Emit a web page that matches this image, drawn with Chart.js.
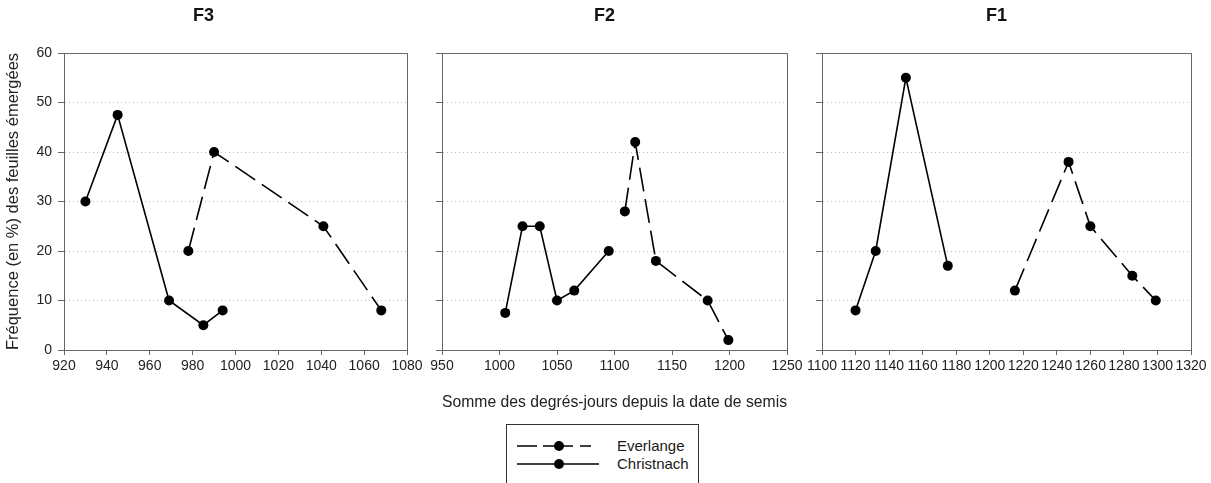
<!DOCTYPE html>
<html>
<head>
<meta charset="utf-8">
<script src="https://cdn.jsdelivr.net/npm/chart.js@4.4.1/dist/chart.umd.min.js"></script>
<style>
    body { margin: 0; background: #fff; }
    #wrap { position: relative; width: 1211px; height: 483px; overflow: hidden; background: #fff;
            font-family: "Liberation Sans", Arial, sans-serif; }
    #wrap canvas { position: absolute; left: 0; top: 0; }
    #legend { position: absolute; left: 506px; top: 424px; width: 191px; height: 80px;
              border: 1px solid #333; background: #fff; }
    #legend .row { position: absolute; left: 10px; height: 18px; width: 180px; }
    #legend svg { position: absolute; left: 0; top: 3px; }
    #legend span { position: absolute; left: 100px; top: 0; font-size: 15px; line-height: 18px; color: #1a1a1a; }
</style>
</head>
<body>
<div id="wrap">
    <canvas id="panel-f3" width="1211" height="483"></canvas>
    <canvas id="panel-f2" width="1211" height="483"></canvas>
    <canvas id="panel-f1" width="1211" height="483"></canvas>
    <div id="legend"></div>
</div>
<script>
// Data
const seriesNames = ['Everlange', 'Christnach'];
const panelTitles = ['F3', 'F2', 'F1'];

const xMin = [920, 950, 1100];
const xMax = [1080, 1250, 1320];
const xStep = [20, 50, 20];
const yMin = 0;
const yMax = 60;
const yStep = 10;

const f3EverlangeX = [978, 990, 1041, 1068];
const f3EverlangeY = [20, 40, 25, 8];
const f3ChristnachX = [930, 945, 969, 985, 994];
const f3ChristnachY = [30, 47.5, 10, 5, 8];

const f2EverlangeX = [1109, 1118, 1136, 1181, 1199];
const f2EverlangeY = [28, 42, 18, 10, 2];
const f2ChristnachX = [1005, 1020, 1035, 1050, 1065, 1095];
const f2ChristnachY = [7.5, 25, 25, 10, 12, 20];

const f1EverlangeX = [1215, 1247, 1260, 1285, 1299];
const f1EverlangeY = [12, 38, 25, 15, 10];
const f1ChristnachX = [1120, 1132, 1150, 1175];
const f1ChristnachY = [8, 20, 55, 17];

const xTitle = 'Somme des degrés-jours depuis la date de semis';
const yTitle = 'Fréquence (en %) des feuilles émergées';

// Layout: pixel edges of each plot area
const panelLeft = [64, 442, 822];
const panelRight = [407, 787, 1191];
const FONT = '"Liberation Sans", Arial, sans-serif';
const AXIS = '#666';

const panelSeries = [
    [[f3EverlangeX, f3EverlangeY], [f3ChristnachX, f3ChristnachY]],
    [[f2EverlangeX, f2EverlangeY], [f2ChristnachX, f2ChristnachY]],
    [[f1EverlangeX, f1EverlangeY], [f1ChristnachX, f1ChristnachY]]
];
const dashes = [[24, 8], []];

// top and right sides of the plot frame
const frame = {
    id: 'frame',
    beforeDatasetsDraw(chart) {
        const { ctx, chartArea: a } = chart;
        ctx.save();
        ctx.strokeStyle = AXIS;
        ctx.lineWidth = 1;
        ctx.beginPath();
        ctx.moveTo(a.left, Math.round(a.top) + 0.5);
        ctx.lineTo(Math.round(a.right) + 0.5, Math.round(a.top) + 0.5);
        ctx.lineTo(Math.round(a.right) + 0.5, a.bottom);
        ctx.stroke();
        ctx.restore();
    }
};

// boxed legend built from the chart's own legend items
const htmlLegend = {
    id: 'htmlLegend',
    afterUpdate(chart) {
        const box = document.getElementById('legend');
        box.innerHTML = '';
        const items = chart.options.plugins.legend.labels.generateLabels(chart);
        items.forEach((item, k) => {
            const row = document.createElement('div');
            row.className = 'row';
            row.style.top = (12 + k * 18) + 'px';
            const dashed = item.lineDash && item.lineDash.length;
            row.innerHTML =
                '<svg width="84" height="12"><line x1="0" y1="6" x2="' + (dashed ? 74 : 82) + '" y2="6" stroke="#000" stroke-width="1.5"' +
                (dashed ? ' stroke-dasharray="20,6,30,7,11"' : '') +
                '/><circle cx="42" cy="6" r="5" fill="#000"/></svg><span>' + item.text + '</span>';
            box.appendChild(row);
        });
    }
};

function buildPanel(i, canvasId) {
    const first = i === 0;
    const mid = i === 1;
    const yWidth = first ? 64 : 20;

    const datasets = panelSeries[i].map((s, k) => ({
        label: seriesNames[k],
        data: s[0].map((x, n) => ({ x: x, y: s[1][n] })),
        showLine: true,
        borderColor: '#000',
        backgroundColor: '#000',
        borderWidth: 1.6,
        borderDash: dashes[k],
        pointRadius: 5,
        pointHoverRadius: 5,
        pointBorderWidth: 0,
        pointBackgroundColor: '#000'
    }));

    return new Chart(document.getElementById(canvasId), {
        type: 'scatter',
        data: { datasets: datasets },
        options: {
            responsive: false,
            animation: false,
            devicePixelRatio: 1,
            events: [],
            layout: {
                padding: { left: panelLeft[i] - yWidth, right: 1211 - panelRight[i], top: 0, bottom: 67 }
            },
            plugins: {
                legend: { display: false },
                tooltip: { enabled: false },
                title: {
                    display: true,
                    text: panelTitles[i],
                    color: '#111',
                    font: { family: FONT, size: 18, weight: 'bold' },
                    padding: { top: 5.7, bottom: 25.7 }
                }
            },
            scales: {
                x: {
                    type: 'linear',
                    min: xMin[i],
                    max: xMax[i],
                    afterFit: (scale) => { scale.height = 66; },
                    ticks: {
                        stepSize: xStep[i],
                        autoSkip: false,
                        maxRotation: 0,
                        padding: 3,
                        color: '#222',
                        font: { family: FONT, size: 14 },
                        callback: (value) => String(value)
                    },
                    grid: { drawOnChartArea: false, tickLength: 5, tickColor: AXIS, color: AXIS },
                    border: { color: AXIS },
                    title: {
                        display: mid,
                        text: xTitle,
                        color: '#222',
                        font: { family: FONT, size: 16.5 },
                        padding: { top: 0, bottom: 4 }
                    }
                },
                y: {
                    min: yMin,
                    max: yMax,
                    afterFit: (scale) => { scale.width = yWidth; },
                    ticks: {
                        stepSize: yStep,
                        display: first,
                        padding: 6,
                        color: '#222',
                        font: { family: FONT, size: 14 }
                    },
                    grid: { color: '#bbb', tickLength: 6, tickColor: AXIS, tickBorderDash: [] },
                    border: { color: AXIS, dash: [1, 3] },
                    title: {
                        display: first,
                        text: yTitle,
                        color: '#222',
                        font: { family: FONT, size: 16.5 },
                        padding: { top: 4, bottom: 0 }
                    }
                }
            }
        },
        plugins: mid ? [frame, htmlLegend] : [frame]
    });
}

buildPanel(0, 'panel-f3');
buildPanel(1, 'panel-f2');
buildPanel(2, 'panel-f1');
</script>
</body>
</html>
